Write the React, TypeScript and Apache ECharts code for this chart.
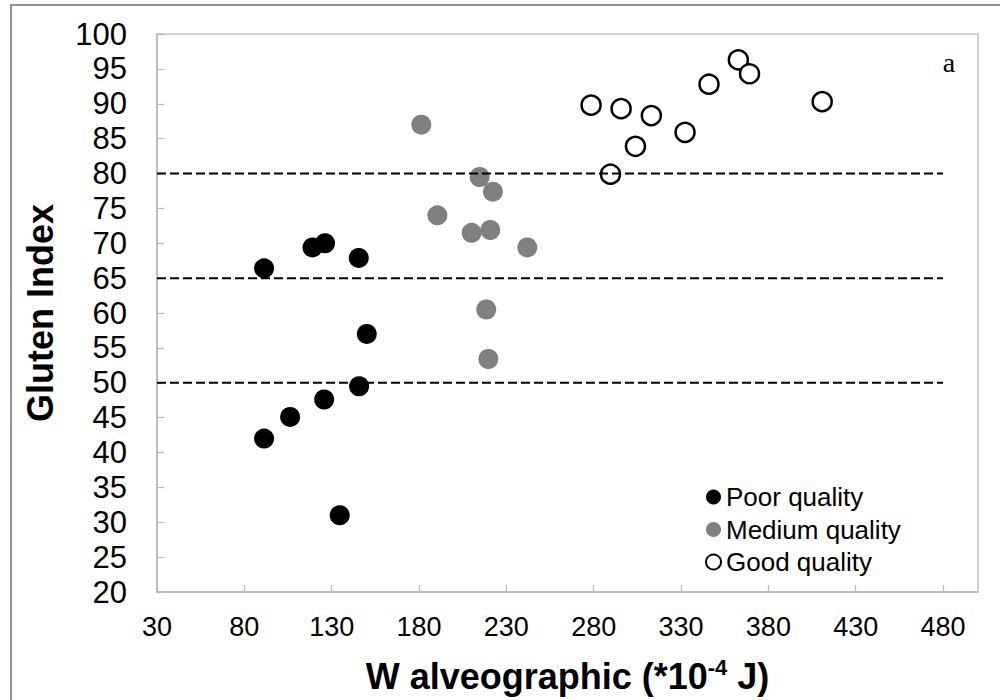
import React, { useEffect, useRef } from "react";
import * as echarts from "echarts";

// W alveographic (x) and Gluten Index (y) per quality group
const poorW = [91.3, 119, 126.2, 145.5, 150.1, 145.7, 125.7, 106.2, 91.3, 134.6];
const poorGI = [66.4, 69.4, 70.0, 67.9, 57.0, 49.5, 47.6, 45.1, 42.0, 31.0];

const mediumW = [181.3, 190.5, 214.7, 222.3, 210.1, 220.8, 242, 218.5, 219.7];
const mediumGI = [87.0, 74.0, 79.5, 77.4, 71.5, 71.9, 69.4, 60.5, 53.4];

const goodW = [278.5, 295.7, 313, 303.9, 289.6, 332.3, 346, 362.8, 369.2, 410.8];
const goodGI = [89.8, 89.3, 88.3, 83.9, 79.9, 85.9, 92.8, 96.3, 94.3, 90.3];

// threshold lines (Gluten Index) and their W extent
const thresholds = [50, 65, 80];
const thresholdW = [30, 480];

const seriesNames = ["Poor quality", "Medium quality", "Good quality"];

const FONT = "'Liberation Sans', Arial, sans-serif";

export default function App() {
  const ref = useRef<HTMLDivElement>(null);

  useEffect(() => {
    const chart = echarts.init(ref.current!, null, { renderer: "svg" });
    const pairs = (xs: number[], ys: number[]) => xs.map((x, i) => [x, ys[i]]);

    const lineSeries = thresholds.map((t) => ({
      type: "line",
      name: "threshold" + t,
      data: thresholdW.map((w) => [w, t]),
      symbol: "none",
      silent: true,
      z: 5,
      lineStyle: { color: "#000", width: 2, type: [9, 4] },
    }));

    chart.setOption({
      animation: false,
      backgroundColor: "#fff",
      grid: { left: 157, right: 22, top: 34, bottom: 108, show: true, borderColor: "#c4c4c4", borderWidth: 1.5, backgroundColor: "transparent" },
      legend: {
        data: seriesNames,
        orient: "vertical",
        left: 700,
        top: 479,
        itemWidth: 15,
        itemHeight: 15,
        itemGap: 6.5,
        icon: "circle",
        textStyle: { fontSize: 26, color: "#000", fontFamily: FONT },
      },
      xAxis: {
        type: "value",
        min: 30,
        max: 500,
        interval: 50,
        name: "{a|W alveographic (*10}{s|-4}{a| J)}",
        nameLocation: "middle",
        nameGap: 64,
        nameTextStyle: {
          rich: {
            a: { fontSize: 36, fontWeight: "bold", color: "#000", fontFamily: FONT, lineHeight: 40 },
            s: { fontSize: 22, fontWeight: "bold", color: "#000", fontFamily: FONT, lineHeight: 30, verticalAlign: "top" },
          },
        },
        splitLine: { show: false },
        axisLine: { show: true, lineStyle: { color: "#b8b8b8", width: 1.5 } },
        axisTick: { show: true, inside: true, length: 7, lineStyle: { color: "#b8b8b8", width: 1.2 } },
        axisLabel: { showMaxLabel: false, fontSize: 27, color: "#000", fontFamily: FONT, margin: 21 },
      },
      yAxis: {
        type: "value",
        min: 20,
        max: 100,
        interval: 5,
        name: "Gluten Index",
        nameLocation: "middle",
        nameGap: 99,
        nameTextStyle: { fontSize: 36, fontWeight: "bold", color: "#000", fontFamily: FONT },
        splitLine: { show: false },
        axisLine: { show: true, lineStyle: { color: "#b8b8b8", width: 1.5 } },
        axisTick: { show: true, inside: true, length: 7, lineStyle: { color: "#b8b8b8", width: 1.2 } },
        axisLabel: { fontSize: 31, color: "#000", fontFamily: FONT, margin: 30 },
      },
      graphic: [
        { type: "rect", shape: { x: 11, y: 5, width: 1200, height: 900 }, style: { fill: "none", stroke: "#6e6e6e", lineWidth: 1.5 }, silent: true },
        { type: "text", x: 949, y: 62, style: { text: "a", fontSize: 28, fontFamily: "'Liberation Serif', 'Times New Roman', serif", fill: "#000", align: "center", verticalAlign: "middle" } },
      ],
      series: [
        {
          type: "scatter",
          name: seriesNames[0],
          data: pairs(poorW, poorGI),
          symbol: "circle",
          symbolSize: 20,
          itemStyle: { color: "#000", opacity: 1 },
          z: 3,
        },
        {
          type: "scatter",
          name: seriesNames[1],
          data: pairs(mediumW, mediumGI),
          symbol: "circle",
          symbolSize: 20,
          itemStyle: { color: "#808080", opacity: 1 },
          z: 3,
        },
        {
          type: "scatter",
          name: seriesNames[2],
          data: pairs(goodW, goodGI),
          symbol: "circle",
          symbolSize: 19,
          itemStyle: { color: "#fff", borderColor: "#000", borderWidth: 2.5, opacity: 1 },
          z: 3,
        },
        ...lineSeries,
      ],
    });

    return () => chart.dispose();
  }, []);

  return (
    <div
      ref={ref}
      style={{ position: "absolute", left: 0, top: 0, width: 1000, height: 700, background: "#fff" }}
    />
  );
}
